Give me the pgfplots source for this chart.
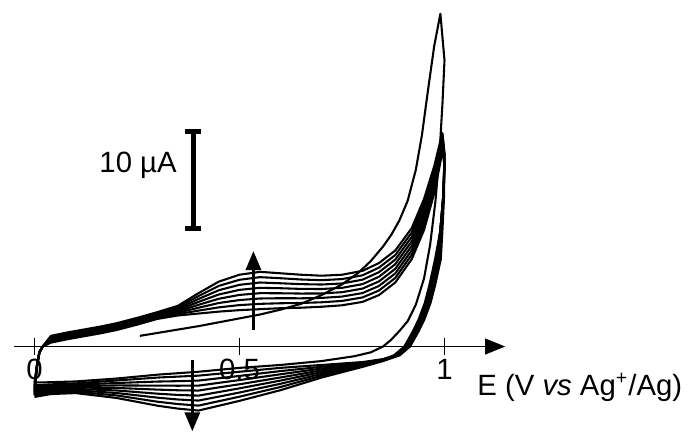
\documentclass[border=0pt]{standalone}
\usepackage{fontspec}
\setmainfont{Liberation Sans}
\usepackage{pgfplots}
\pgfplotsset{compat=1.18}
\usetikzlibrary{arrows.meta}

\begin{document}
\begin{tikzpicture}
\begin{axis}[
  width=10cm, height=6.216cm, scale only axis,
  xmin=-0.0841, xmax=1.611, ymin=-8.81, ymax=35.72,
  hide axis, clip=false,
  cycle list={{black, solid}},
  every axis plot post/.append style={line width=0.85pt, line join=round, mark=none},
  font=\fontsize{12}{14}\selectfont,
]
\path (rel axis cs:0,0) rectangle (rel axis cs:1,1);

% x axis
\draw[line width=0.5pt, -{Triangle[length=8.2pt,width=6.5pt]}] (axis cs:-0.05,0) -- (axis cs:1.148,0);
\draw[line width=0.5pt] (axis cs:0,0.9) -- (axis cs:0,-0.9);
\draw[line width=0.5pt] (axis cs:0.5,0.9) -- (axis cs:0.5,-0.9);
\draw[line width=0.5pt] (axis cs:1,0.9) -- (axis cs:1,-0.9);
\node[anchor=base] at (axis cs:0,-3.45) {0};
\node[anchor=base] at (axis cs:0.5,-3.45) {0.5};
\node[anchor=base] at (axis cs:1,-3.45) {1};
\node[anchor=base west, inner sep=0pt] at (axis cs:1.079,-5.0) {E (V \textit{vs} Ag\textsuperscript{+}/Ag)};

% cycle 1
\addplot coordinates {(0.257,1.1)(0.30,1.4)(0.35,1.75)(0.40,2.1)(0.45,2.5)(0.50,2.9)(0.55,3.3)(0.60,3.8)(0.65,4.4)(0.70,5.3)(0.75,6.4)(0.79,7.6)(0.82,8.8)(0.85,10.3)(0.87,11.5)(0.89,13.0)(0.91,15.0)(0.93,18.2)(0.945,21.8)(0.96,26.5)(0.975,31)(0.99,34.3)
 (1.0,29.5)(0.995,25)(0.988,20)(0.978,15)(0.965,10.5)(0.95,7)(0.93,4.3)(0.91,2.6)(0.89,1.6)(0.87,0.7)(0.85,0)(0.82,-0.6)(0.78,-1.0)(0.70,-1.5)(0.60,-1.9)(0.50,-2.2)(0.40,-2.6)(0.30,-2.9)(0.20,-3.3)(0.10,-3.6)(0.02,-3.7)(0,-3.7)};
% cycle 2
\addplot coordinates {(0,-3.7)(0.006,-2.0)(0.012,-0.6)(0.02,0.0)(0.04,0.4)(0.08,0.75)(0.12,1.05)(0.16,1.35)(0.2,1.7)(0.25,2.25)(0.3,2.85)(0.35,3.2)(0.4,3.4)(0.45,3.6)(0.5,3.75)(0.55,3.85)(0.6,3.95)(0.65,4.0)(0.7,4.1)(0.75,4.25)(0.8,4.6)(0.84,5.3)(0.88,6.6)(0.92,9.0)(0.95,12.0)(0.975,15.8)(0.99,19.0)(0.995,20.5)
 (1.0,18.5)(0.997,15.5)(0.99,12.0)(0.98,9.0)(0.966,6.3)(0.955,4.5)(0.94,2.8)(0.925,1.5)(0.905,0)(0.88,-0.9)(0.85,-1.3)(0.8,-1.6)(0.7,-1.9)(0.6,-2.2)(0.5,-2.6)(0.45,-2.8)(0.4,-3.0)(0.35,-3.1)(0.3,-3.2)(0.2,-3.5)(0.1,-3.8)(0.04,-3.9)(0,-4.0)};
% cycle 3
\addplot coordinates {(0,-4.0)(0.006,-2.0)(0.012,-0.6)(0.02,0.0)(0.04,0.5)(0.08,0.85)(0.12,1.15)(0.16,1.45)(0.2,1.8)(0.25,2.35)(0.3,2.95)(0.35,3.34)(0.4,3.70)(0.45,4.04)(0.5,4.27)(0.55,4.4)(0.6,4.46)(0.65,4.49)(0.7,4.56)(0.75,4.7)(0.8,5.06)(0.84,5.77)(0.88,7.07)(0.92,9.46)(0.95,12.46)(0.975,16.2)(0.99,19.31)(0.995,20.71)
 (1.0,18.7)(0.997,15.5)(0.99,12.0)(0.984,9.0)(0.97,6.3)(0.959,4.5)(0.944,2.8)(0.929,1.5)(0.909,0)(0.884,-0.9)(0.85,-1.33)(0.8,-1.67)(0.7,-2.09)(0.6,-2.53)(0.5,-3.03)(0.45,-3.27)(0.4,-3.51)(0.35,-3.57)(0.3,-3.61)(0.2,-3.76)(0.1,-3.94)(0.04,-4.04)(0,-4.17)};
% cycle 4
\addplot coordinates {(0,-4.17)(0.006,-2.0)(0.012,-0.6)(0.02,0.0)(0.04,0.6)(0.08,0.95)(0.12,1.25)(0.16,1.55)(0.2,1.9)(0.25,2.45)(0.3,3.05)(0.35,3.49)(0.4,4.0)(0.45,4.49)(0.5,4.79)(0.55,4.95)(0.6,4.98)(0.65,4.97)(0.7,5.01)(0.75,5.15)(0.8,5.51)(0.84,6.24)(0.88,7.54)(0.92,9.91)(0.95,12.91)(0.975,16.6)(0.99,19.63)(0.995,20.93)
 (1.0,18.9)(0.997,15.5)(0.99,12.0)(0.977,9.0)(0.963,6.3)(0.952,4.5)(0.937,2.8)(0.922,1.5)(0.902,0)(0.877,-0.9)(0.85,-1.36)(0.8,-1.74)(0.7,-2.27)(0.6,-2.86)(0.5,-3.46)(0.45,-3.74)(0.4,-4.03)(0.35,-4.04)(0.3,-4.03)(0.2,-4.01)(0.1,-4.09)(0.04,-4.19)(0,-4.34)};
% cycle 5
\addplot coordinates {(0,-4.34)(0.006,-2.0)(0.012,-0.6)(0.02,0.0)(0.04,0.7)(0.08,1.05)(0.12,1.35)(0.16,1.65)(0.2,2.0)(0.25,2.55)(0.3,3.15)(0.35,3.63)(0.4,4.3)(0.45,4.93)(0.5,5.32)(0.55,5.5)(0.6,5.49)(0.65,5.46)(0.7,5.47)(0.75,5.6)(0.8,5.97)(0.84,6.71)(0.88,8.01)(0.92,10.37)(0.95,13.37)(0.975,17.0)(0.99,19.94)(0.995,21.14)
 (1.0,19.1)(0.997,15.5)(0.993,12.0)(0.987,9.0)(0.973,6.3)(0.962,4.5)(0.947,2.8)(0.932,1.5)(0.912,0)(0.887,-0.9)(0.85,-1.39)(0.8,-1.81)(0.7,-2.46)(0.6,-3.19)(0.5,-3.89)(0.45,-4.21)(0.4,-4.54)(0.35,-4.51)(0.3,-4.44)(0.2,-4.27)(0.1,-4.23)(0.04,-4.33)(0,-4.51)};
% cycle 6
\addplot coordinates {(0,-4.51)(0.006,-2.0)(0.012,-0.6)(0.02,0.0)(0.04,0.8)(0.08,1.15)(0.12,1.45)(0.16,1.75)(0.2,2.1)(0.25,2.65)(0.3,3.25)(0.35,3.77)(0.4,4.6)(0.45,5.37)(0.5,5.84)(0.55,6.05)(0.6,6.01)(0.65,5.94)(0.7,5.93)(0.75,6.05)(0.8,6.43)(0.84,7.19)(0.88,8.49)(0.92,10.83)(0.95,13.83)(0.975,17.4)(0.99,20.26)(0.995,21.36)
 (1.0,19.3)(0.997,15.5)(0.99,12.0)(0.982,9.0)(0.968,6.3)(0.957,4.5)(0.942,2.8)(0.927,1.5)(0.907,0)(0.882,-0.9)(0.85,-1.41)(0.8,-1.89)(0.7,-2.64)(0.6,-3.51)(0.5,-4.31)(0.45,-4.69)(0.4,-5.06)(0.35,-4.99)(0.3,-4.86)(0.2,-4.53)(0.1,-4.37)(0.04,-4.47)(0,-4.69)};
% cycle 7
\addplot coordinates {(0,-4.69)(0.006,-2.0)(0.012,-0.6)(0.02,0.0)(0.04,0.9)(0.08,1.25)(0.12,1.55)(0.16,1.85)(0.2,2.2)(0.25,2.75)(0.3,3.35)(0.35,3.91)(0.4,4.9)(0.45,5.81)(0.5,6.36)(0.55,6.6)(0.6,6.52)(0.65,6.43)(0.7,6.39)(0.75,6.5)(0.8,6.89)(0.84,7.66)(0.88,8.96)(0.92,11.29)(0.95,14.29)(0.975,17.8)(0.99,20.57)(0.995,21.57)
 (1.0,19.5)(0.998,15.5)(0.993,12.0)(0.989,9.0)(0.975,6.3)(0.964,4.5)(0.949,2.8)(0.934,1.5)(0.914,0)(0.889,-0.9)(0.85,-1.44)(0.8,-1.96)(0.7,-2.83)(0.6,-3.84)(0.5,-4.74)(0.45,-5.16)(0.4,-5.57)(0.35,-5.46)(0.3,-5.27)(0.2,-4.79)(0.1,-4.51)(0.04,-4.61)(0,-4.86)};
% cycle 8
\addplot coordinates {(0,-4.86)(0.006,-2.0)(0.012,-0.6)(0.02,0.0)(0.04,1.0)(0.08,1.35)(0.12,1.65)(0.16,1.95)(0.2,2.3)(0.25,2.85)(0.3,3.45)(0.35,4.06)(0.4,5.2)(0.45,6.26)(0.5,6.88)(0.55,7.15)(0.6,7.04)(0.65,6.91)(0.7,6.84)(0.75,6.95)(0.8,7.34)(0.84,8.13)(0.88,9.43)(0.92,11.74)(0.95,14.74)(0.975,18.2)(0.99,20.89)(0.995,21.79)
 (1.0,19.7)(0.997,15.5)(0.99,12.0)(0.985,9.0)(0.971,6.3)(0.96,4.5)(0.945,2.8)(0.93,1.5)(0.91,0)(0.885,-0.9)(0.85,-1.47)(0.8,-2.03)(0.7,-3.01)(0.6,-4.17)(0.5,-5.17)(0.45,-5.63)(0.4,-6.09)(0.35,-5.93)(0.3,-5.69)(0.2,-5.04)(0.1,-4.66)(0.04,-4.76)(0,-5.03)};
% cycle 9
\addplot coordinates {(0,-5.03)(0.006,-2.0)(0.012,-0.6)(0.02,0.0)(0.04,1.1)(0.08,1.45)(0.12,1.75)(0.16,2.05)(0.2,2.4)(0.25,2.95)(0.3,3.55)(0.35,4.2)(0.4,5.5)(0.45,6.7)(0.5,7.4)(0.55,7.7)(0.6,7.55)(0.65,7.4)(0.7,7.3)(0.75,7.4)(0.8,7.8)(0.84,8.6)(0.88,9.9)(0.92,12.2)(0.95,15.2)(0.975,18.6)(0.99,21.2)(0.995,22.0)
 (1.0,20.0)(0.999,15.5)(0.995,12.0)(0.991,9.0)(0.977,6.3)(0.966,4.5)(0.951,2.8)(0.936,1.5)(0.916,0)(0.891,-0.9)(0.85,-1.5)(0.8,-2.1)(0.7,-3.2)(0.6,-4.5)(0.5,-5.6)(0.45,-6.1)(0.4,-6.6)(0.35,-6.4)(0.3,-6.1)(0.2,-5.3)(0.1,-4.8)(0.04,-4.9)(0,-5.2)};

% arrows showing cycle growth
\draw[line width=1.35pt, -{Triangle[length=7.8pt,width=6.1pt]}] (axis cs:0.534,1.7) -- (axis cs:0.534,9.85);
\draw[line width=1.35pt, -{Triangle[length=7.8pt,width=6.1pt]}] (axis cs:0.385,-1.4) -- (axis cs:0.385,-8.75);

% scale bar
\draw[line width=2pt] (axis cs:0.387,12.2) -- (axis cs:0.387,22.2);
\draw[line width=2pt] (axis cs:0.367,12.2) -- (axis cs:0.407,12.2);
\draw[line width=2pt] (axis cs:0.367,22.2) -- (axis cs:0.407,22.2);
\node[anchor=base east, inner sep=0pt] at (axis cs:0.348,17.9) {10 µA};
\end{axis}
\end{tikzpicture}
\end{document}
